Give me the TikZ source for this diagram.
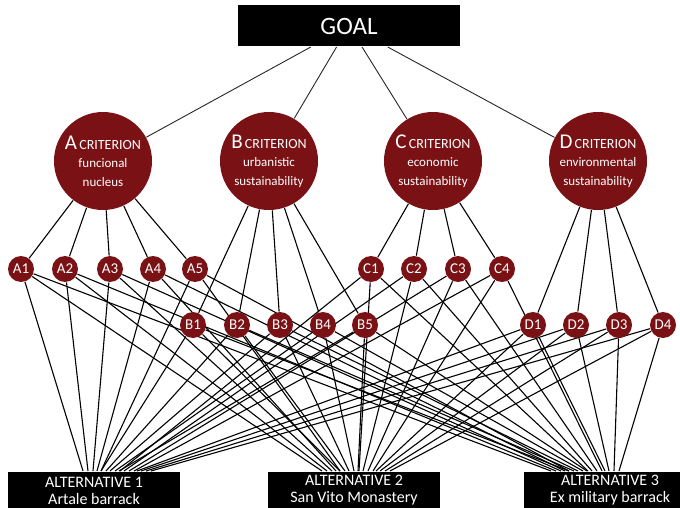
\documentclass[tikz,border=0pt]{standalone}
\usepackage{fontspec}
\setmainfont{Carlito}
\usetikzlibrary{calc,backgrounds}
\definecolor{wine}{RGB}{122,17,20}
\tikzset{
  every picture/.style={line width=1pt},
  goal/.style={fill=black, text=white, minimum width=222pt, minimum height=41pt, inner sep=0pt, font=\fontsize{25}{25}\selectfont},
  crit/.style={circle, fill=wine, text=white, minimum size=98pt, inner sep=0pt, align=center, font=\fontsize{13}{18.5}\selectfont},
  subc/.style={circle, fill=wine, text=white, minimum size=26pt, inner sep=0pt, font=\fontsize{15}{15}\selectfont},
  alt/.style={fill=black, text=white, minimum width=172pt, minimum height=38pt, anchor=north, align=center, inner sep=1.5pt, font=\fontsize{16}{17}\selectfont},
  link/.style={line width=1.1pt, black},
  top/.style={line width=0.9pt, black!85},
}
\newcommand{\critlabel}[2]{{\fontsize{21}{21}\selectfont #1}\,{\fontsize{14}{14}\selectfont CRITERION}\\#2}

\begin{document}
\begin{tikzpicture}[x=1pt, y=-1pt]
  \useasboundingbox (0,0) rectangle (680,508);
  % goal and criteria
  \node[goal] (goal) at (349,26) {GOAL};
  \node[crit] (A) at (103,161) {\critlabel{A}{funcional\\ nucleus}};
  \node[crit] (B) at (269,161) {\critlabel{B}{urbanistic\\ sustainability}};
  \node[crit] (C) at (433,161) {\critlabel{C}{economic\\ sustainability}};
  \node[crit] (D) at (598,161) {\critlabel{D}{environmental\\ sustainability}};
  % sub-criteria
  \foreach \s/\x in {A1/21,A2/65,A3/110,A4/153,A5/195,C1/371,C2/414,C3/458,C4/502}
    \node[subc] (\s) at (\x,269) {\s};
  \foreach \s/\x in {B1/193,B2/237,B3/280,B4/323,B5/365,D1/533,D2/576,D3/619,D4/663}
    \node[subc] (\s) at (\x,325) {\s};
  % alternatives
  \node[alt] (alt1) at (94,471) {ALTERNATIVE 1\\ Artale barrack};
  \node[alt] (alt2) at (354,471) {ALTERNATIVE 2\\ San Vito Monastery};
  \node[alt] (alt3) at (610,471) {ALTERNATIVE 3\\ Ex military barrack};
  \begin{scope}[on background layer]
    \foreach \c in {A,B,C,D} \draw[top] (goal) -- (\c);
    \foreach \c/\n in {A/5,B/5,C/4,D/4}
      \foreach \i in {1,...,\n} \draw[link] (\c) -- (\c\i);
    \foreach \s/\d in {A1/-34,A2/-29,A3/-24,A4/-20,A5/-16,B1/-16,B2/-11,B3/-7,B4/-2,B5/2,
                       C1/3,C2/7,C3/12,C4/17,D1/20,D2/24,D3/29,D4/34} {
      \draw[link] (\s) -- ($(alt1.north)+(23+\d,0)$);
      \draw[link] (\s) -- ($(alt2.north)+(2+\d,0)$);
      \draw[link] (\s) -- ($(alt3.north)+(-25+\d,0)$);
    }
  \end{scope}
\end{tikzpicture}
\end{document}
